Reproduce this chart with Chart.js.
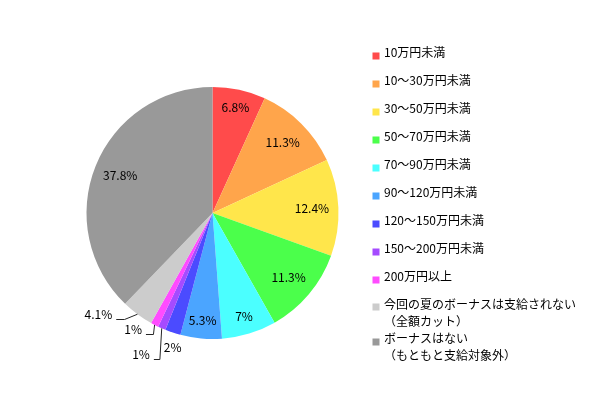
<!DOCTYPE html>
<html><head><meta charset="utf-8">
<script src="https://cdn.jsdelivr.net/npm/chart.js@4/dist/chart.umd.min.js"></script>
<style>html,body{margin:0;padding:0;background:#fff;} #wrap{position:relative;width:598px;height:398px;}</style>
</head><body><div id="wrap"><canvas id="c" width="598" height="398"></canvas></div>
<script>
const categories = [
  '10万円未満',
  '10～30万円未満',
  '30～50万円未満',
  '50～70万円未満',
  '70～90万円未満',
  '90～120万円未満',
  '120～150万円未満',
  '150～200万円未満',
  '200万円以上',
  '今回の夏のボーナスは支給されない\n（全額カット）',
  'ボーナスはない\n（もともと支給対象外）'
];
const values = [6.8, 11.3, 12.4, 11.3, 7, 5.3, 2, 1, 1, 4.1, 37.8];
const colors = ['#FF4B4B','#FFA54B','#FFE64B','#4BFF4B','#4BFFFF','#4BA5FF','#4B4BFF','#A54BFF','#FF4BFF','#CCCCCC','#999999'];

const FONT = '12px "Noto Sans CJK JP", "Noto Sans", sans-serif';

const outsideLabels = {
  6: {dx: -0.2, dy: 14.4, line: false},
  7: {dx: -20.7, dy: 25.7, line: true, elbow: 6},
  8: {dx: -21.5, dy: 5, line: true, elbow: 7.5},
  9: {dx: -39.1, dy: 0.2, line: true, elbow: 8.3}
};

const labelPlugin = {
  id: 'labels',
  afterDatasetsDraw(chart) {
    const ctx = chart.ctx;
    const meta = chart.getDatasetMeta(0);
    ctx.save();
    ctx.font = FONT;
    ctx.fillStyle = '#000';
    ctx.textAlign = 'center';
    ctx.textBaseline = 'middle';
    meta.data.forEach((arc, i) => {
      const p = arc.getProps(['x','y','startAngle','endAngle','outerRadius'], true);
      const mid = (p.startAngle + p.endAngle) / 2;
      const text = values[i] + '%';
      const o = outsideLabels[i];
      if (o) {
        const ex = p.x + Math.cos(mid) * p.outerRadius;
        const ey = p.y + Math.sin(mid) * p.outerRadius;
        const tx = ex + o.dx, ty = ey + o.dy;
        ctx.fillText(text, tx, ty);
        if (o.line) {
          const w = ctx.measureText(text).width;
          const endX = tx + w / 2 + 4;
          const ly = Math.round(ty + 4.5) + 0.5;
          ctx.beginPath();
          ctx.strokeStyle = '#262626';
          ctx.lineWidth = 1;
          ctx.moveTo(ex, ey);
          ctx.lineTo(endX + o.elbow, ly);
          ctx.lineTo(endX, ly);
          ctx.stroke();
        }
      } else {
        const r = p.outerRadius * (values[i] < 10 ? 0.86 : 0.79);
        ctx.fillText(text, p.x + Math.cos(mid) * r, p.y + Math.sin(mid) * r);
      }
    });
    ctx.restore();
  },
  afterDraw(chart) {
    const ctx = chart.ctx;
    ctx.save();
    ctx.font = FONT;
    ctx.textAlign = 'left';
    ctx.textBaseline = 'middle';
    const boxX = 372.5, textX = 384, lineH = 17;
    let y = 52.5;
    categories.forEach((cat, i) => {
      const lines = cat.split('\n');
      ctx.fillStyle = colors[i];
      ctx.fillRect(boxX, Math.round(y) - 0.5, 7, 7);
      ctx.fillStyle = '#000';
      lines.forEach((ln, k) => ctx.fillText(ln, textX, y + k * lineH));
      y += lines.length > 1 ? 34.4 : 28;
      if (i === 8) y = 304.1;
    });
    ctx.restore();
  }
};

new Chart(document.getElementById('c'), {
  type: 'pie',
  data: {
    labels: categories,
    datasets: [{ data: values, backgroundColor: colors, borderWidth: 0 }]
  },
  options: {
    responsive: false,
    animation: false,
    layout: { padding: { left: 86.5, right: 259.5, top: 87, bottom: 59 } },
    plugins: { legend: { display: false }, tooltip: { enabled: false } }
  },
  plugins: [labelPlugin]
});
</script>
</body></html>
